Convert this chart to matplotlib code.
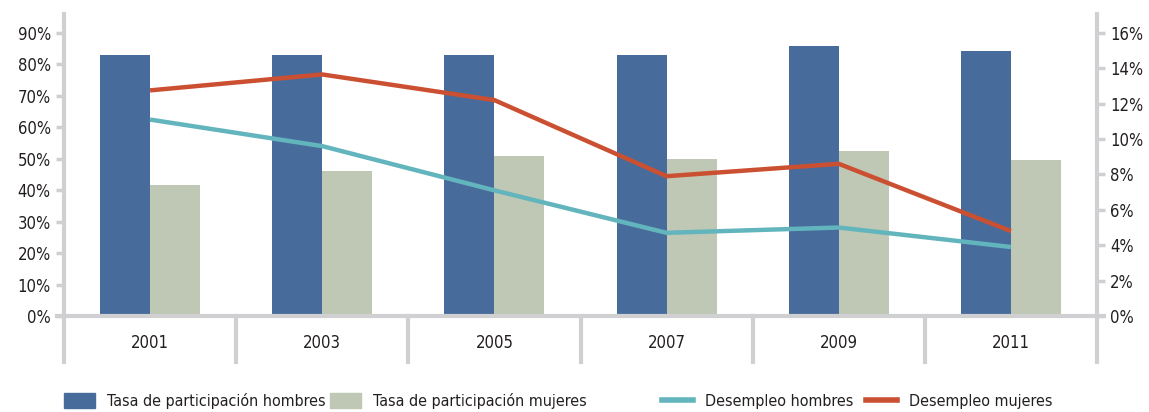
import numpy as np
import matplotlib
matplotlib.use('Agg')
import matplotlib.pyplot as plt
from matplotlib.lines import Line2D
from matplotlib.patches import Patch

years = ['2001', '2003', '2005', '2007', '2009', '2011']
part_hombres = [83.1, 83.0, 83.0, 83.0, 85.7, 84.1]
part_mujeres = [41.7, 46.2, 51.0, 50.0, 52.5, 49.7]
desemp_hombres = [11.1, 9.6, 7.1, 4.7, 5.0, 3.9]
desemp_mujeres = [12.75, 13.65, 12.2, 7.9, 8.6, 4.8]

c_hom = '#476c9b'
c_muj = '#bfc8b5'
c_dh = '#63b5bd'
c_dm = '#cb5031'
c_axis = '#d0d0d3'
c_text = '#231f20'

plt.rcParams['font.family'] = ['DejaVu Sans']
plt.rcParams['font.stretch'] = 'condensed'
plt.rcParams['font.size'] = 12

fig = plt.figure(figsize=(11.49, 4.12), dpi=100)
ax = fig.add_axes([64 / 1149, 1 - 316 / 412, (1097 - 64) / 1149, 302 / 412])
ax2 = ax.twinx()

x = np.arange(len(years))
w = 0.29
ax.bar(x - w / 2, part_hombres, w, color=c_hom, zorder=2)
ax.bar(x + w / 2, part_mujeres, w, color=c_muj, zorder=2)

ax2.plot(x, desemp_hombres, color=c_dh, lw=3.2, solid_capstyle='butt')
ax2.plot(x, desemp_mujeres, color=c_dm, lw=3.2, solid_capstyle='butt')

ax.set_xlim(-0.5, len(years) - 0.5)
ax.set_ylim(0, 96)
ax2.set_ylim(0, 96 * 16 / 90)

ax.set_yticks(np.arange(0, 91, 10))
ax.set_yticklabels(['%d%%' % v for v in range(0, 91, 10)])
ax2.set_yticks(np.arange(0, 17, 2))
ax2.set_yticklabels(['%d%%' % v for v in range(0, 17, 2)])
ax.set_xticks(x)
ax.set_xticklabels(years)

for a in (ax, ax2):
    for s in a.spines.values():
        s.set_visible(False)
    a.tick_params(axis='y', color=c_axis, width=2.5, length=6, labelcolor=c_text)
ax.tick_params(axis='x', length=0, pad=13, labelcolor=c_text)

# axis lines and category separators
ax.axhline(0, color=c_axis, lw=3, xmin=-0.007, xmax=1.007, clip_on=False, zorder=3)
for xs in np.arange(-0.5, len(years), 1.0):
    top = 1.0 if xs in (-0.5, len(years) - 0.5) else 0.0
    ax.axvline(xs, ymin=-0.152, ymax=top, color=c_axis, lw=3, clip_on=False, zorder=3)

handles = [Patch(color=c_hom), Patch(color=c_muj),
           Line2D([], [], color=c_dh, lw=4), Line2D([], [], color=c_dm, lw=4)]
labels = ['Tasa de participación hombres', 'Tasa de participación mujeres',
          'Desempleo hombres', 'Desempleo mujeres']
starts = [64, 330, 662, 866]
for h, lab, xs in zip(handles, labels, starts):
    leg = fig.legend([h], [lab], loc='center left',
                     bbox_to_anchor=(xs / 1149, 1 - 401 / 412),
                     frameon=False, handlelength=1.95, handleheight=1.0,
                     handletextpad=0.75, borderpad=0, borderaxespad=0,
                     fontsize=11.5)
    for t in leg.get_texts():
        t.set_color(c_text)

fig.savefig('out.png', dpi=100)
